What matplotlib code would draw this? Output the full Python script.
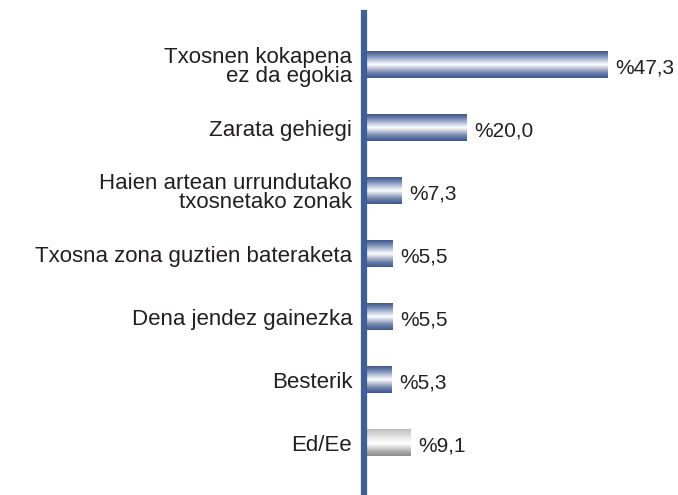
import matplotlib.pyplot as plt
import numpy as np
from matplotlib.colors import LinearSegmentedColormap

categories = [
    "Txosnen kokapena\nez da egokia",
    "Zarata gehiegi",
    "Haien artean urrundutako\ntxosnetako zonak",
    "Txosna zona guztien bateraketa",
    "Dena jendez gainezka",
    "Besterik",
    "Ed/Ee",
]
values = [47.3, 20.0, 7.3, 5.5, 5.5, 5.3, 9.1]
value_labels = ["%47,3", "%20,0", "%7,3", "%5,5", "%5,5", "%5,3", "%9,1"]
is_gray = [False, False, False, False, False, False, True]

plt.rcParams["font.family"] = ["Liberation Sans", "DejaVu Sans"]

blue_cmap = LinearSegmentedColormap.from_list(
    "blue_tube",
    [(0.0, "#3e5589"), (0.15, "#6e82ad"), (0.5, "#ffffff"),
     (0.8, "#7084ad"), (1.0, "#3e5589")],
)
gray_cmap = LinearSegmentedColormap.from_list(
    "gray_tube",
    [(0.0, "#bdbdbd"), (0.4, "#f4f4f4"), (0.55, "#ffffff"),
     (0.85, "#a8a8a8"), (1.0, "#8a8a8a")],
)

fig = plt.figure(figsize=(6.78, 4.95), dpi=100)
ax = fig.add_axes([0.5369, 0.004, 0.4631, 0.9697])

y = np.arange(len(categories))
bars = ax.barh(y, values, height=0.42, color="none", edgecolor="none")

# .. Fill each bar with a vertical gradient.
grad = np.linspace(0, 1, 256).reshape(-1, 1)
for bar, gray in zip(bars, is_gray):
    x0, y0 = bar.get_x(), bar.get_y()
    w, h = bar.get_width(), bar.get_height()
    ax.imshow(
        grad,
        cmap=gray_cmap if gray else blue_cmap,
        aspect="auto",
        extent=(x0, x0 + w, y0 + h, y0),
        interpolation="bicubic",
        zorder=2,
    )

for yi, v, lab in zip(y, values, value_labels):
    ax.text(v + 1.5, yi + 0.05, lab, va="center", ha="left",
            fontsize=15, color="#231f20")

ax.set_xlim(0, 61)
ax.set_ylim(6.8, -0.83)
ax.set_yticks(y)
ax.set_yticklabels(categories, fontsize=16, color="#231f20",
                   linespacing=0.92)
ax.tick_params(axis="y", length=0, pad=8.5)
ax.set_xticks([])

for side in ["top", "right", "bottom"]:
    ax.spines[side].set_visible(False)
ax.spines["left"].set_linewidth(4.5)
ax.spines["left"].set_color("#3d5f9a")
ax.spines["left"].set_zorder(3)

fig.savefig("out.png", dpi=100)
